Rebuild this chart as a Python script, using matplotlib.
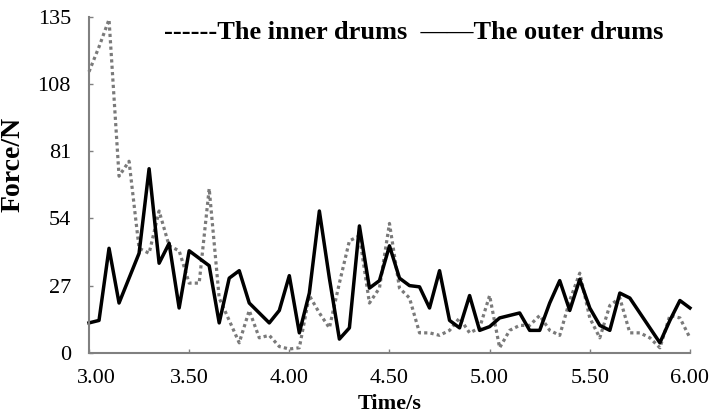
import numpy as np
import matplotlib
matplotlib.use("Agg")
import matplotlib.pyplot as plt
import matplotlib.transforms as mtransforms

# sample times (s), 0.05 s spacing
time_s = np.linspace(3.0, 6.0, 61)

inner_drums = [113, 123, 134, 71, 77, 42, 40, 57, 43, 41,
               28, 28, 66, 22, 13, 4, 17, 6, 7, 2.5,
               1.5, 2, 23, 16, 10, 28, 45, 47, 20, 26,
               52, 26, 22, 8, 8, 7, 9, 14, 8, 10,
               23, 2, 9, 11, 11, 15, 9, 7, 21, 32,
               14, 6, 19, 22, 8, 8, 6, 2, 15, 14, 6]

outer_drums = [12, 13, 42, 20, 30, 40, 74, 36, 44, 18,
               41, 38, 35, 12, 30, 33, 20, 16, 12, 17,
               31, 8, 24, 57, 30, 5.5, 10, 51, 26, 29,
               43, 30, 27, 26.5, 18, 33, 13, 10, 23, 9,
               10.5, 14, 15, 16, 9, 9, 20, 29, 17, 29.5,
               18, 11, 9, 24, 22, 16, 10, 4, 13, 21, 18]

x_ticks = [3.0, 3.5, 4.0, 4.5, 5.0, 5.5, 6.0]
y_ticks = [0, 27, 54, 81, 108, 135]

plt.rcParams["font.family"] = ["Liberation Serif", "DejaVu Serif"]

fig = plt.figure(figsize=(7.12, 4.15), dpi=100)
ax = fig.add_axes([0.125, 0.150, 0.844, 0.809])

ax.plot(time_s, inner_drums, color="#7a7a7a", lw=2.3,
        linestyle=(0, (1, 1)), clip_on=False)
ax.plot(time_s, outer_drums, color="black", lw=2.5, clip_on=False)

ax.set_xlim(3.0, 6.0)
ax.set_ylim(0, 135)
ax.set_xticks(x_ticks)
ax.set_xticklabels([f"{v:.2f}" for v in x_ticks])
ax.set_yticks(y_ticks)

for side in ("top", "right"):
    ax.spines[side].set_visible(False)
for side in ("left", "bottom"):
    ax.spines[side].set_color("#808080")
    ax.spines[side].set_linewidth(1.5)

ax.tick_params(axis="both", direction="in", length=3, width=1,
               color="#808080", labelsize=16)
ax.tick_params(axis="y", pad=13)
ax.tick_params(axis="x", pad=12)

# first x label sits a bit right of its tick in the original
first = ax.get_xticklabels()[0]
first.set_transform(first.get_transform() +
                    mtransforms.ScaledTranslation(7 / 100, 0, fig.dpi_scale_trans))

ax.set_xlabel("Time/s", fontsize=16, fontweight="bold", labelpad=4)
ax.set_ylabel("Force/N", fontsize=20, fontweight="bold")
ax.yaxis.set_label_coords(-0.106, 0.56)

fig.text(0.231, 0.922, "------The inner drums  \u2014\u2014The outer drums",
         fontsize=19, fontweight="bold", ha="left", va="center")

fig.savefig("out.png", dpi=100)
